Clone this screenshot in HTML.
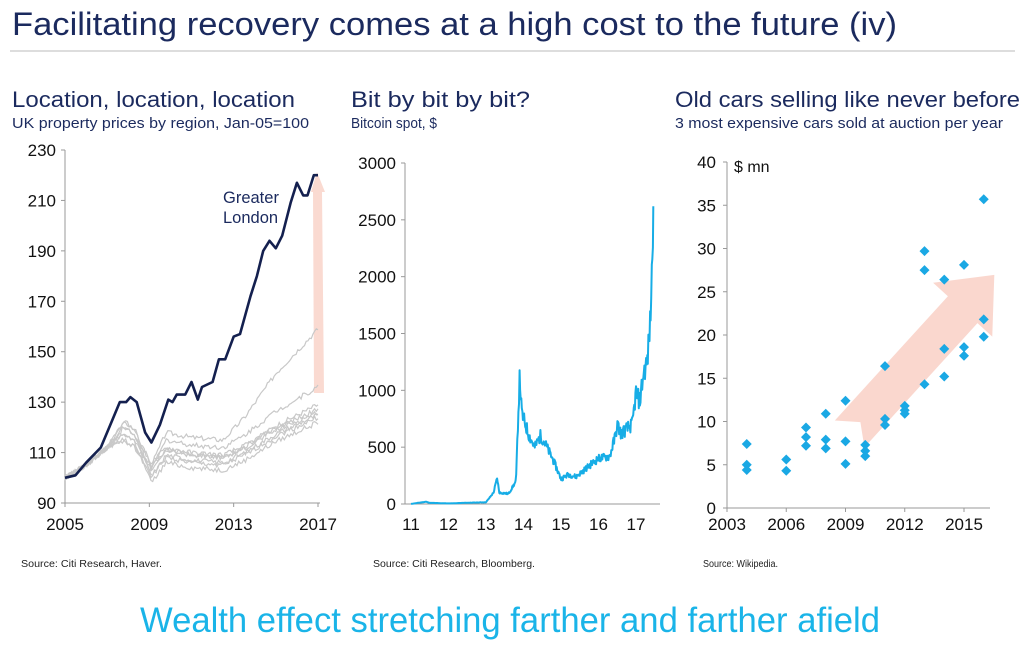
<!DOCTYPE html>
<html><head><meta charset="utf-8"><style>
html,body{margin:0;padding:0;background:#fff;}
body{width:1024px;height:658px;overflow:hidden;font-family:"Liberation Sans",Arial,sans-serif;}
</style></head><body>
<svg id="s" width="1024" height="658" viewBox="0 0 1024 658" xmlns="http://www.w3.org/2000/svg" font-family="Liberation Sans, Arial, sans-serif">
<text x="12" y="35" font-size="32" fill="#1b2a5e" textLength="885" lengthAdjust="spacingAndGlyphs">Facilitating recovery comes at a high cost to the future (iv)</text>
<line x1="10" y1="51" x2="1015" y2="51" stroke="#bbb" stroke-width="1"/>
<text x="12" y="107" font-size="22" fill="#1b2a5e" textLength="283" lengthAdjust="spacingAndGlyphs">Location, location, location</text>
<text x="12" y="128" font-size="15" fill="#1b2a5e" textLength="297" lengthAdjust="spacingAndGlyphs">UK property prices by region, Jan-05=100</text>
<text x="351" y="107" font-size="22" fill="#1b2a5e" textLength="179" lengthAdjust="spacingAndGlyphs">Bit by bit by bit?</text>
<text x="351" y="128" font-size="15" fill="#1b2a5e" textLength="86" lengthAdjust="spacingAndGlyphs">Bitcoin spot, $</text>
<text x="675" y="107" font-size="22" fill="#1b2a5e" textLength="345" lengthAdjust="spacingAndGlyphs">Old cars selling like never before</text>
<text x="675" y="128" font-size="15" fill="#1b2a5e" textLength="328" lengthAdjust="spacingAndGlyphs">3 most expensive cars sold at auction per year</text>
<text x="21" y="567" font-size="10" fill="#222" textLength="141" lengthAdjust="spacingAndGlyphs">Source: Citi Research, Haver.</text>
<text x="373" y="567" font-size="10" fill="#222" textLength="162" lengthAdjust="spacingAndGlyphs">Source: Citi Research, Bloomberg.</text>
<text x="703" y="567" font-size="10" fill="#222" textLength="75" lengthAdjust="spacingAndGlyphs">Source: Wikipedia.</text>
<text x="140" y="632" font-size="35" fill="#1ab4e8" textLength="740" lengthAdjust="spacingAndGlyphs">Wealth effect stretching farther and farther afield</text>
<g id="c1"></g><g id="c2"></g><g id="c3"></g>
</svg>
<script>
var NS="http://www.w3.org/2000/svg";
function el(p,t,a,txt){var e=document.createElementNS(NS,t);for(var k in a)e.setAttribute(k,a[k]);if(txt!=null)e.textContent=txt;(typeof p=="string"?document.getElementById(p):p).appendChild(e);return e;}
// chart1
var X1=function(y){return 65+(y-2005)*253/12;},Y1=function(v){return 503-(v-90)*353/140;};
el("c1","line",{x1:65,y1:150,x2:65,y2:503,stroke:"#999"});
el("c1","line",{x1:65,y1:503,x2:320,y2:503,stroke:"#999"});
[90,110,130,150,170,190,210,230].forEach(function(v){el("c1","line",{x1:61,y1:Y1(v),x2:65,y2:Y1(v),stroke:"#999"});el("c1","text",{x:56,y:Y1(v)+6,"font-size":17,"text-anchor":"end",fill:"#111"},v);});
[2005,2009,2013,2017].forEach(function(y){el("c1","line",{x1:X1(y),y1:503,x2:X1(y),y2:507,stroke:"#999"});el("c1","text",{x:X1(y),y:530,"font-size":17,"text-anchor":"middle",fill:"#111"},y);});
el("c1","polygon",{points:"311,192 317,172 325,192 322,192 324,393 314,393 313,192",fill:"#f9d3c9",opacity:0.85});
function seed(n){return function(){n=(n*9301+49297)%233280;return n/233280;};}
var ends=[159,136,129,126,125,122,127,124];
var troughs=[105,103,102,104,100,98,106,101];
var mids=[115,112,108,108,106,103,109,105];
for(var i=0;i<8;i++){var r=seed(i*7+3),pts=[],peak=112+i%4*2.5;
 var kn=[[2005,100],[2006,105],[2007,112],[2007.8,peak+3],[2008.3,peak],[2009.1,troughs[i]],[2009.8,mids[i]+3],[2011,mids[i]+1],[2012.5,mids[i]],[2013.5,mids[i]+(ends[i]-mids[i])*0.2],[2015,mids[i]+(ends[i]-mids[i])*0.6],[2017,ends[i]]];
 for(var t=2005;t<=2017;t+=0.08){var j=0;while(j<kn.length-2&&kn[j+1][0]<t)j++;var a=kn[j],b=kn[j+1],f=(t-a[0])/(b[0]-a[0]);var v=a[1]+(b[1]-a[1])*f+(r()-0.5)*2;pts.push(X1(t).toFixed(1)+","+Y1(v).toFixed(1));}
 el("c1","polyline",{points:pts.join(" "),fill:"none",stroke:"#c8c8c8","stroke-width":1.2});}
var L=[[2005,100],[2005.5,101],[2006,106],[2006.7,112],[2007.2,122],[2007.6,130],[2007.9,130],[2008.1,132],[2008.4,130],[2008.8,118],[2009.1,114],[2009.5,121],[2009.9,131],[2010.1,130],[2010.3,133],[2010.7,133],[2011,138],[2011.3,131],[2011.5,136],[2012,138],[2012.3,147],[2012.6,147],[2013,156],[2013.3,157],[2013.8,172],[2014.1,180],[2014.4,190],[2014.7,194],[2015,191],[2015.3,196],[2015.7,209],[2016,217],[2016.3,212],[2016.5,212],[2016.8,220],[2017,220]];
el("c1","polyline",{points:L.map(function(p){return X1(p[0]).toFixed(1)+","+Y1(p[1]).toFixed(1);}).join(" "),fill:"none",stroke:"#14204f","stroke-width":2.6,"stroke-linejoin":"round"});
el("c1","text",{x:223,y:203,"font-size":16.5,fill:"#1b2a5e"},"Greater");
el("c1","text",{x:223,y:223,"font-size":16.5,fill:"#1b2a5e"},"London");
// chart2
var X2=function(y){return 411+(y-11)*37.5;},Y2=function(v){return 504-v*341/3000;};
el("c2","line",{x1:405,y1:163,x2:405,y2:504,stroke:"#999"});
el("c2","line",{x1:405,y1:504,x2:660,y2:504,stroke:"#999"});
[0,500,1000,1500,2000,2500,3000].forEach(function(v){el("c2","line",{x1:401,y1:Y2(v),x2:405,y2:Y2(v),stroke:"#999"});el("c2","text",{x:396,y:Y2(v)+6,"font-size":17,"text-anchor":"end",fill:"#111"},v);});
[11,12,13,14,15,16,17].forEach(function(y){el("c2","text",{x:X2(y),y:530,"font-size":17,"text-anchor":"middle",fill:"#111"},y);});
var B=[[11,1],[11.4,20],[11.5,10],[12,5],[12.6,12],[13,15],[13.2,100],[13.3,230],[13.35,100],[13.6,90],[13.8,200],[13.85,700],[13.9,1130],[13.95,800],[14.05,700],[14.15,600],[14.3,500],[14.45,600],[14.55,550],[14.8,380],[15,220],[15.2,260],[15.4,240],[15.55,280],[15.8,350],[16,400],[16.3,420],[16.45,600],[16.5,700],[16.6,620],[16.9,700],[17,980],[17.1,900],[17.2,1150],[17.3,1250],[17.38,1600],[17.42,2000],[17.46,2600]];
var r2=seed(11),bp=[];
for(var t=11;t<=17.46;t+=0.015){var j=0;while(j<B.length-2&&B[j+1][0]<t)j++;var a=B[j],b=B[j+1],f=Math.min(1,(t-a[0])/(b[0]-a[0]));var v=a[1]+(b[1]-a[1])*f;v=v*(1+(r2()-0.5)*0.18);bp.push(X2(t).toFixed(1)+","+Y2(v).toFixed(1));}
bp.push(X2(17.46).toFixed(1)+","+Y2(2620).toFixed(1));
el("c2","polyline",{points:bp.join(" "),fill:"none",stroke:"#17ade6","stroke-width":2,"stroke-linejoin":"round"});
// chart3
var X3=function(y){return 727+(y-2003)*19.75;},Y3=function(v){return 508-v*8.65;};
el("c3","line",{x1:727,y1:162,x2:727,y2:508,stroke:"#999"});
el("c3","line",{x1:727,y1:508,x2:990,y2:508,stroke:"#999"});
[0,5,10,15,20,25,30,35,40].forEach(function(v){el("c3","line",{x1:723,y1:Y3(v),x2:727,y2:Y3(v),stroke:"#999"});el("c3","text",{x:716,y:Y3(v)+6,"font-size":17,"text-anchor":"end",fill:"#111"},v);});
[2003,2006,2009,2012,2015].forEach(function(y){el("c3","line",{x1:X3(y),y1:508,x2:X3(y),y2:512,stroke:"#999"});el("c3","text",{x:X3(y),y:530,"font-size":17,"text-anchor":"middle",fill:"#111"},y);});
el("c3","text",{x:734,y:172,"font-size":16,fill:"#111"},"$ mn");
var g=el("c3","g",{transform:"translate(855,428) rotate(-47.7)"});
el(g,"polygon",{points:"-8,-20 160,-20 160,-40 207,0 160,40 160,20 -8,20 8,0",fill:"#f9d3c9",opacity:0.9});
var D=[[2004,[7.4,5,4.4]],[2006,[5.6,4.3]],[2007,[9.3,8.2,7.2]],[2008,[10.9,7.9,6.9]],[2009,[12.4,7.7,5.1]],[2010,[7.3,6.6,6.0]],[2011,[16.4,10.3,9.6]],[2012,[11.8,11.3,10.9]],[2013,[29.7,27.5,14.3]],[2014,[26.4,18.4,15.2]],[2015,[28.1,18.6,17.6]],[2016,[35.7,21.8,19.8]]];
D.forEach(function(d){d[1].forEach(function(v){var x=X3(d[0]),y=Y3(v);el("c3","polygon",{points:x+","+(y-5)+" "+(x+5)+","+y+" "+x+","+(y+5)+" "+(x-5)+","+y,fill:"#1aa8e4"});});});
</script>
</body></html>
